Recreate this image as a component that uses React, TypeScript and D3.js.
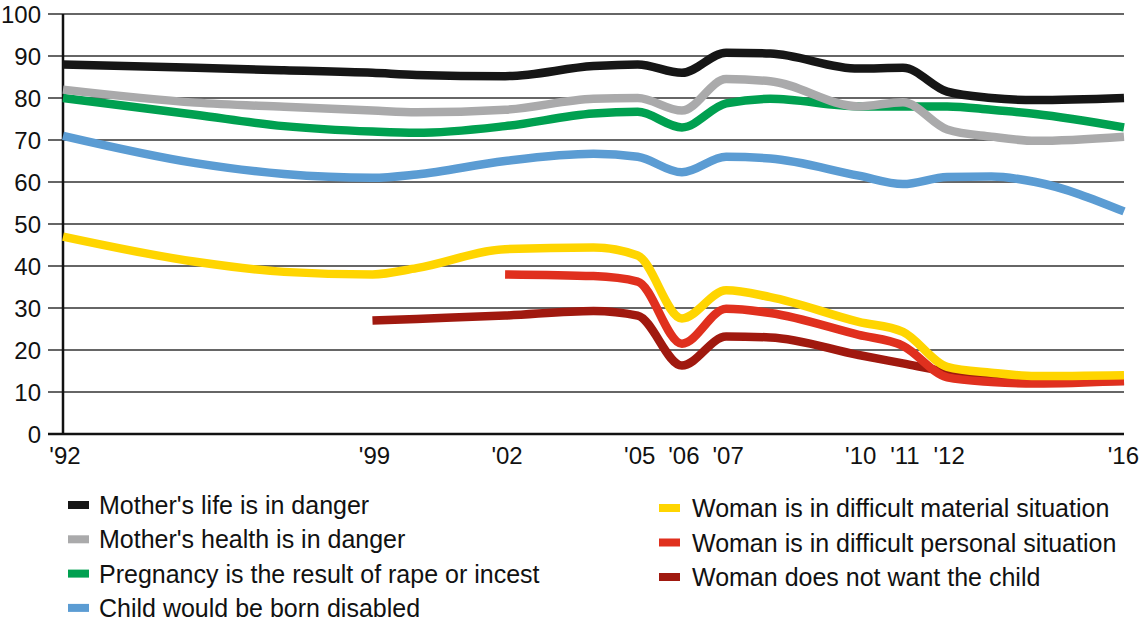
import { line, curveMonotoneX, scaleLinear } from "d3";

const years = [1992, 1995, 1997, 1999, 2000, 2002, 2004, 2005, 2006, 2007, 2008, 2010, 2011, 2012, 2013, 2014, 2016];

type V = number | null;

const lifeDanger: V[] = [88, 87.2, 86.6, 86, 85.5, 85.2, 87.6, 88, 86, 90.8, 90.6, 87, 87.2, 81.5, 80, 79.5, 80];
const healthDanger: V[] = [82, 78.9, 77.9, 77, 76.6, 77.2, 79.8, 80, 77, 84.5, 84, 78, 79, 72.5, 70.8, 69.8, 70.8];
const rapeIncest: V[] = [80, 76, 73.3, 72, 71.7, 73.3, 76.3, 76.7, 73, 78.7, 79.8, 78, 78, 78, 77.2, 76.2, 73];
const bornDisabled: V[] = [71, 64.5, 61.9, 61, 61.8, 65, 66.7, 66, 62.3, 66, 65.6, 61.5, 59.5, 61.2, 61.3, 60, 53];
const materialSituation: V[] = [47, 41, 38.6, 38, 39.5, 44, 44.4, 42.5, 27.5, 34.2, 32.6, 26.7, 24.3, 16, 14.6, 13.8, 14];
const personalSituation: V[] = [null, null, null, null, null, 38, 37.6, 36.3, 21.5, 29.8, 28.8, 23.6, 21, 13.5, 12.4, 12, 12.6];
const notWantChild: V[] = [null, null, null, 27, 27.4, 28.2, 29.3, 28.2, 16.3, 23.2, 23, 18.8, 16.8, 14.8, 13.3, 12.5, 12.6];

const series = [
  { name: "Mother's life is in danger", color: "#161616", values: lifeDanger },
  { name: "Mother's health is in danger", color: "#aaaaab", values: healthDanger },
  { name: "Pregnancy is the result of rape or incest", color: "#00a050", values: rapeIncest },
  { name: "Child would be born disabled", color: "#5b9cd3", values: bornDisabled },
  { name: "Woman is in difficult material situation", color: "#ffd500", values: materialSituation },
  { name: "Woman is in difficult personal situation", color: "#e0301e", values: personalSituation },
  { name: "Woman does not want the child", color: "#a0190f", values: notWantChild },
];

const tickYears = [1992, 1999, 2002, 2005, 2006, 2007, 2010, 2011, 2012, 2016];
const yTicks = [0, 10, 20, 30, 40, 50, 60, 70, 80, 90, 100];

const font = "'Liberation Sans', Arial, sans-serif";

export default function App() {
  const width = 1140;
  const height = 622;
  const left = 63;
  const right = 1124;
  const top = 14;
  const bottom = 434;

  const x = scaleLinear().domain([1992, 2016]).range([left, right]);
  const y = scaleLinear().domain([0, 100]).range([bottom, top]);

  const makePath = (vals: V[]) =>
    line<number>()
      .defined((_, i) => vals[i] !== null)
      .x((d) => x(d))
      .y((_, i) => y(vals[i] as number))
      .curve(curveMonotoneX)(years) ?? "";

  const leftLegend = series.slice(0, 4);
  const rightLegend = series.slice(4);
  const lastYear = tickYears[tickYears.length - 1];

  return (
    <svg
      width={width}
      height={height}
      style={{ position: "absolute", left: 0, top: 0, background: "#fff" }}
      fontFamily={font}
    >
      {yTicks.map((t) => (
        <g key={t}>
          <line x1={48} x2={right} y1={y(t)} y2={y(t)} stroke={t === 0 ? "#111" : "#333"} strokeWidth={t === 0 ? 2.5 : 1.3} />
          <text x={41} y={y(t)} dy="0.36em" textAnchor="end" fontSize={24} fill="#111">
            {t}
          </text>
        </g>
      ))}
      <line x1={left} x2={left} y1={top} y2={bottom} stroke="#111" strokeWidth={2.5} />

      {tickYears.map((yr) => (
        <text
          key={yr}
          x={yr === lastYear ? width - 1 : x(yr) + 2}
          y={464}
          textAnchor={yr === lastYear ? "end" : "middle"}
          fontSize={24}
          fill="#111"
        >
          {"'" + String(yr).slice(2)}
        </text>
      ))}

      {series
        .slice()
        .reverse()
        .map((s) => (
          <path key={s.name} d={makePath(s.values)} fill="none" stroke={s.color} strokeWidth={8.5} />
        ))}

      {leftLegend.map((s, i) => {
        const cy = 505 + i * 34.3;
        return (
          <g key={s.name}>
            <rect x={68} y={cy - 4} width={21} height={8} fill={s.color} />
            <text x={99} y={cy} dy="0.36em" fontSize={25} fill="#111">
              {s.name}
            </text>
          </g>
        );
      })}
      {rightLegend.map((s, i) => {
        const cy = 508 + i * 34.5;
        return (
          <g key={s.name}>
            <rect x={659} y={cy - 4} width={21} height={8} fill={s.color} />
            <text x={692} y={cy} dy="0.36em" fontSize={25} fill="#111">
              {s.name}
            </text>
          </g>
        );
      })}
    </svg>
  );
}
